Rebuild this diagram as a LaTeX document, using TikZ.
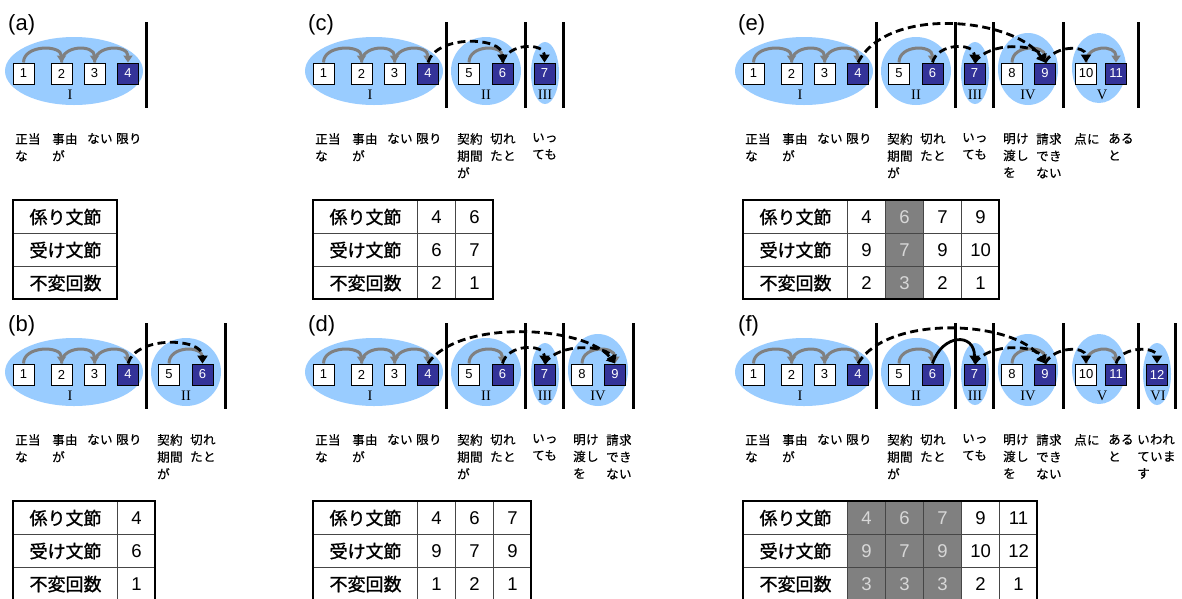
\documentclass[tikz,border=0pt]{standalone}
\usepackage{fontspec}
\setmainfont{Liberation Sans}
\newfontfamily\jpf[FakeBold=1.2]{Noto Sans CJK JP}
\newfontfamily\jplab[LetterSpace=3,FakeBold=0.5]{Noto Sans CJK JP}
\newfontfamily\romf{Liberation Serif}
\usetikzlibrary{arrows.meta}
\definecolor{ellblue}{RGB}{153,204,255}
\definecolor{navy}{RGB}{51,51,153}
\definecolor{arcgray}{RGB}{128,128,128}
\definecolor{cellgray}{RGB}{128,128,128}
\definecolor{celltext}{RGB}{215,215,215}
\definecolor{gridgray}{RGB}{70,70,70}
\tikzset{
  bx/.style={draw=black, line width=1pt, minimum width=21pt, minimum height=21pt, inner sep=0pt, font=\fontsize{13}{13}\selectfont},
  ell/.style={fill=ellblue},
  sepbar/.style={line width=3pt},
  rom/.style={font=\romf\fontsize{14.5}{14.5}\selectfont, inner sep=0pt},
  lab/.style={font=\jplab\fontsize{12.5}{17}\selectfont, align=left, anchor=north west, inner sep=0pt},
  plab/.style={font=\fontsize{22}{22}\selectfont, anchor=base west, inner sep=0pt},
  garr/.style={draw=arcgray, line width=3pt, -{Triangle[length=7pt,width=9pt]}},
  darr/.style={draw=black, line width=2.8pt, dash pattern=on 8pt off 4.5pt, -{Triangle[length=8pt,width=10pt]}},
  sarr/.style={draw=black, line width=2.8pt, -{Triangle[length=8pt,width=10pt]}},
  cell/.style={draw=gridgray, line width=1.1pt, minimum height=33pt, anchor=north west, inner sep=0pt, font=\fontsize{18.5}{18.5}\selectfont},
  hcell/.style={cell, minimum width=104pt, font=\jpf\fontsize{18}{18}\selectfont},
  dcell/.style={cell, minimum width=38pt},
  frame/.style={draw=black, line width=2pt},
}
\newcommand\PanGroups[2]{%
  \foreach \g/\cx/\cy/\rx/\ry/\rn/\rxp/\bxx in {1/74/71/69/34/I/70/146.5, 2/186/71/35/34/II/186/225.5, 3/245/73/14/31/III/245/263, 4/298/69/30/36/IV/298/333, 5/369/68/27/35/V/372/408, 6/427/73/14/31/VI/428/445}{%
    \ifnum\g>#2\relax\else
      \fill[ell] (\cx,\cy) ellipse [x radius=\rx, y radius=\ry];
      \draw[sepbar] (\bxx,22) -- (\bxx,108);
      \node[rom] (#1r\g) at (\rxp,95) {\rn};
    \fi
  }%
}
\newcommand\PanBoxes[2]{%
  \foreach \i/\x/\f/\t in {1/23.5/white/black, 2/61.5/white/black, 3/94.5/white/black, 4/128/navy/white, 5/169/white/black, 6/202.5/navy/white, 7/244.5/navy/white, 8/282/white/black, 9/315/navy/white, 10/356/white/black, 11/386/navy/white, 12/427/navy/white}{%
    \ifnum\i>#2\relax\else
      \node[bx, fill=\f, text=\t] (#1\i) at (\x,73.5) {\i};
    \fi
  }%
}
\newcommand\PanLabels[2]{%
  \foreach \i/\x/\s in {1/15/{正当\\な}, 2/52/{事由\\が}, 3/87/ない, 4/116/限り, 5/157/{契約\\期間\\が}, 6/190/{切れ\\たと}, 7/232/{いっ\\ても}, 8/273/{明け\\渡し\\を}, 9/306/{請求\\でき\\ない}, 10/344/点に, 11/378/{ある\\と}, 12/407/{いわれ\\ていま\\す}}{%
    \ifnum\i>#2\relax\else
      \node[lab] (#1l\i) at (\x,133) {\s};
    \fi
  }%
}
\newcommand\GArc[2]{\draw[garr] (#1.north) .. controls +(0,-18) and +(0,-18) .. (#2.north);}
\newcommand\PanHead[1]{%
  \node[hcell] (#1h1) at (13,200) {係り文節};
  \node[hcell] (#1h2) at (13,233) {受け文節};
  \node[hcell] (#1h3) at (13,266) {不変回数};
}
\newcommand\PanCols[2]{%
  \foreach \a/\b/\c/\f/\t [count=\k] in {#2}{%
    \pgfmathsetmacro\cxx{117+38*(\k-1)}
    \node[dcell, fill=\f, text=\t] (#1-\k-1) at (\cxx,200) {\a};
    \node[dcell, fill=\f, text=\t] (#1-\k-2) at (\cxx,233) {\b};
    \node[dcell, fill=\f, text=\t] (#1-\k-3) at (\cxx,266) {\c};
  }%
}
\newcommand\PanFrame[1]{\draw[frame] (13,200) rectangle ({117+38*#1},299);}
\begin{document}
\begin{tikzpicture}[x=1pt,y=-1pt]
\useasboundingbox[fill=white] (0,0) rectangle (1182,598);
% ---------- (a)
\begin{scope}
  \node[plab] (pa) at (8,30) {(a)};
  \PanGroups{a}{1}
  \PanBoxes{a}{4}
  \GArc{a1}{a2}\GArc{a2}{a3}\GArc{a3}{a4}
  \PanLabels{a}{4}
  \PanHead{ta}
  \PanFrame{0}
\end{scope}
% ---------- (b)
\begin{scope}[shift={(0,301)}]
  \node[plab] (pb) at (8,30) {(b)};
  \PanGroups{b}{2}
  \PanBoxes{b}{6}
  \GArc{b1}{b2}\GArc{b2}{b3}\GArc{b3}{b4}\GArc{b5}{b6}
  \draw[darr] (b4.north) .. controls +(8,-28) and +(0,-26) .. (b6.north);
  \PanLabels{b}{6}
  \PanHead{tb}
  \PanCols{tb}{4/6/1/white/black}
  \PanFrame{1}
\end{scope}
% ---------- (c)
\begin{scope}[shift={(300,0)}]
  \node[plab] (pc) at (8,30) {(c)};
  \PanGroups{c}{3}
  \PanBoxes{c}{7}
  \GArc{c1}{c2}\GArc{c2}{c3}\GArc{c3}{c4}\GArc{c5}{c6}
  \draw[darr] (c4.north) .. controls +(8,-28) and +(0,-26) .. (c6.north);
  \draw[darr] (c6.north) .. controls +(5,-20) and +(0,-20) .. (c7.north);
  \PanLabels{c}{7}
  \PanHead{tc}
  \PanCols{tc}{4/6/2/white/black, 6/7/1/white/black}
  \PanFrame{2}
\end{scope}
% ---------- (d)
\begin{scope}[shift={(300,301)}]
  \node[plab] (pd) at (8,30) {(d)};
  \PanGroups{d}{4}
  \PanBoxes{d}{9}
  \GArc{d1}{d2}\GArc{d2}{d3}\GArc{d3}{d4}\GArc{d5}{d6}\GArc{d8}{d9}
  \draw[darr] (d4.north) .. controls +(30,-45) and +(-30,-38) .. (d9.north);
  \draw[darr] (d6.north) .. controls +(5,-20) and +(0,-20) .. (d7.north);
  \draw[darr] (d7.north) .. controls +(15,-22) and +(-8,-18) .. (d9.north);
  \PanLabels{d}{9}
  \PanHead{td}
  \PanCols{td}{4/9/1/white/black, 6/7/2/white/black, 7/9/1/white/black}
  \PanFrame{3}
\end{scope}
% ---------- (e)
\begin{scope}[shift={(730,0)}]
  \node[plab] (pe) at (8,30) {(e)};
  \PanGroups{e}{5}
  \PanBoxes{e}{11}
  \GArc{e1}{e2}\GArc{e2}{e3}\GArc{e3}{e4}\GArc{e5}{e6}\GArc{e8}{e9}\GArc{e10}{e11}
  \draw[darr] (e4.north) .. controls +(30,-58) and +(-30,-44) .. (e9.north);
  \draw[darr] (e6.north) .. controls +(5,-20) and +(0,-20) .. (e7.north);
  \draw[darr] (e7.north) .. controls +(15,-22) and +(-8,-18) .. (e9.north);
  \draw[darr] (e9.north) .. controls +(10,-18) and +(0,-17) .. (e10.north);
  \PanLabels{e}{11}
  \PanHead{te}
  \PanCols{te}{4/9/2/white/black, 6/7/3/cellgray/celltext, 7/9/2/white/black, 9/10/1/white/black}
  \PanFrame{4}
\end{scope}
% ---------- (f)
\begin{scope}[shift={(730,301)}]
  \node[plab] (pf) at (8,30) {(f)};
  \PanGroups{f}{6}
  \PanBoxes{f}{12}
  \GArc{f1}{f2}\GArc{f2}{f3}\GArc{f3}{f4}\GArc{f5}{f6}\GArc{f8}{f9}\GArc{f10}{f11}
  \draw[darr] (f4.north) .. controls +(30,-50) and +(-30,-43) .. (f9.north);
  \draw[sarr] (f6.north) .. controls +(10,-30) and +(0,-31) .. (f7.north);
  \draw[darr] (f7.north) .. controls +(15,-22) and +(-8,-18) .. (f9.north);
  \draw[darr] (f9.north) .. controls +(10,-18) and +(0,-17) .. (f10.north);
  \draw[darr] (f11.north) .. controls +(5,-18) and +(0,-17) .. (f12.north);
  \PanLabels{f}{12}
  \PanHead{tf}
  \PanCols{tf}{4/9/3/cellgray/celltext, 6/7/3/cellgray/celltext, 7/9/3/cellgray/celltext, 9/10/2/white/black, 11/12/1/white/black}
  \PanFrame{5}
\end{scope}
\end{tikzpicture}
\end{document}
